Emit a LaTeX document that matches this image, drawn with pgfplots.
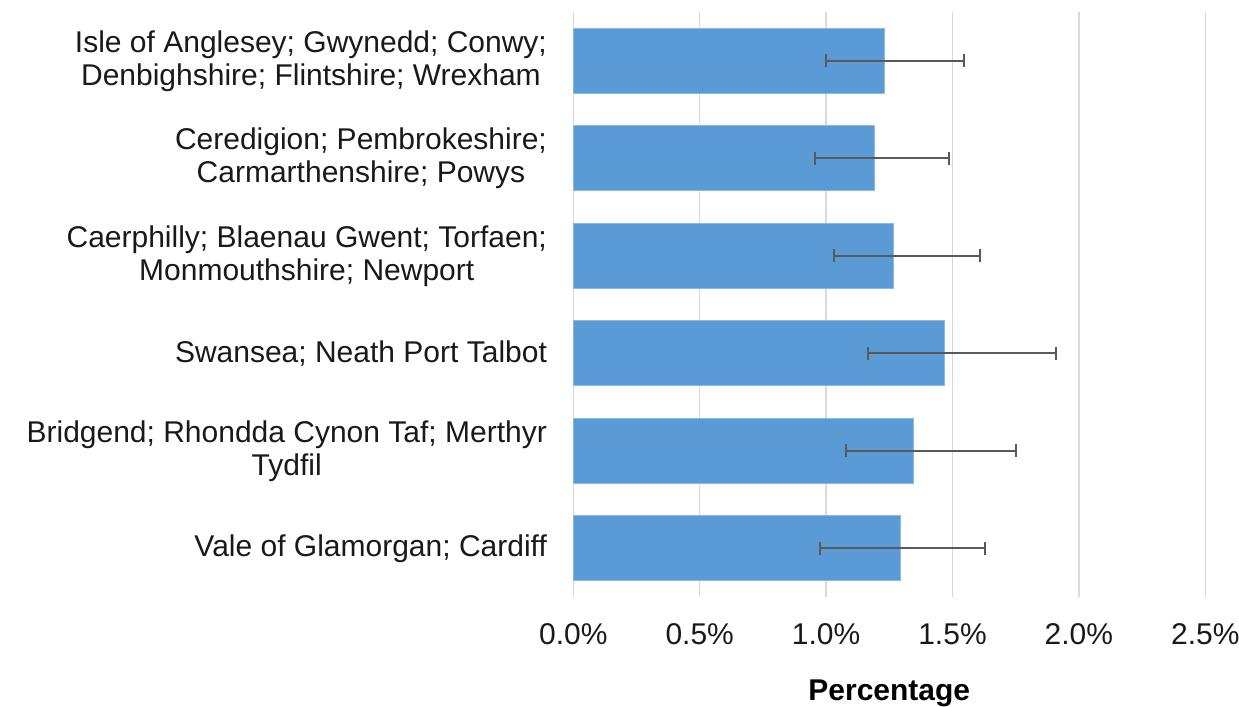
\documentclass[border=0pt]{standalone}
\usepackage{pgfplots}
\pgfplotsset{compat=1.18}
\usepackage{fontspec}
\setmainfont{Liberation Sans}
\definecolor{barblue}{HTML}{5B9BD5}
\definecolor{baredge}{HTML}{8DB9E3}
\definecolor{gridgray}{HTML}{D9D9D9}
\definecolor{errgray}{HTML}{595959}
\begin{document}
\fontsize{15}{17.5}\selectfont
\begin{tikzpicture}
\useasboundingbox (0,0) rectangle (619.5pt,353.5pt);
\begin{axis}[
  at={(286.65pt,55pt)}, anchor=south west,
  scale only axis, width=316pt, height=292.5pt,
  xmin=0, xmax=2.5, ymin=-0.5, ymax=5.5,
  y dir=reverse,
  axis line style={draw=none},
  major tick length=0pt,
  xtick={0,0.5,1,1.5,2,2.5},
  xmajorgrids, grid style={gridgray, line width=0.7pt},
  ytick={0,1,2,3,4,5},
  yticklabels={
    {Isle of Anglesey; Gwynedd; Conwy;\\Denbighshire; Flintshire; Wrexham},
    {Ceredigion; Pembrokeshire;\\Carmarthenshire; Powys},
    {Caerphilly; Blaenau Gwent; Torfaen;\\Monmouthshire; Newport},
    {Swansea; Neath Port Talbot},
    {Bridgend; Rhondda Cynon Taf; Merthyr\\Tydfil},
    {Vale of Glamorgan; Cardiff}},
  yticklabel style={align=center, anchor=east, inner sep=0pt, xshift=-13pt,
    font=\fontsize{15}{16.5}\selectfont, text=black!90},
  /pgf/number format/assume math mode=true,
  xticklabel={\pgfmathprintnumber[fixed,fixed zerofill,precision=1]{\tick}\%},
  xticklabel style={anchor=north, inner sep=0pt, yshift=-13pt,
    font=\fontsize{15}{17}\selectfont, text=black!90},
  xlabel={\textbf{Percentage}},
  xlabel style={at={(axis description cs:0.5,0)}, anchor=north, inner sep=0pt,
    yshift=-41pt, font=\fontsize{15}{17}\selectfont},
]
\addplot[xbar, bar width=0.667, fill=barblue, draw=baredge, line width=0.4pt,
  error bars/.cd, x dir=both, x explicit,
  error bar style={errgray, line width=1pt},
  error mark options={errgray, line width=1pt, mark size=3.25pt, rotate=90}]
coordinates {
  (1.231,0) += (0.316,0) -= (0.231,0)
  (1.193,1) += (0.293,0) -= (0.238,0)
  (1.268,2) += (0.339,0) -= (0.238,0)
  (1.466,3) += (0.445,0) -= (0.300,0)
  (1.345,4) += (0.406,0) -= (0.268,0)
  (1.292,5) += (0.336,0) -= (0.317,0)
};
\end{axis}
\end{tikzpicture}
\end{document}
